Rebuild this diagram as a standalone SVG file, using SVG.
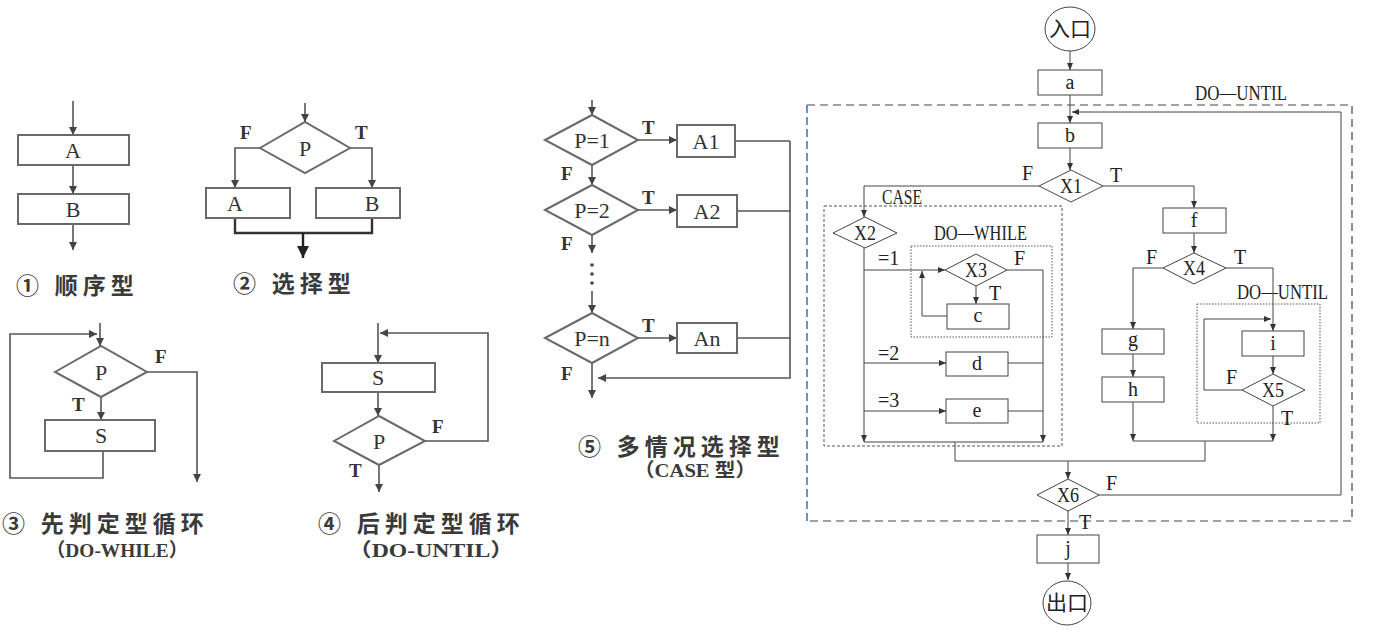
<svg xmlns="http://www.w3.org/2000/svg" width="1384" height="634" viewBox="0 0 1384 634">
<style>
.bg{fill:#ffffff}
.lp{fill:none;stroke:#555;stroke-width:1.6}
.ls{fill:#fff;stroke:#6a6a6a;stroke-width:2}
.lt{font-family:"Liberation Serif",serif;font-size:22px;fill:#333;text-anchor:middle}
.ll{font-family:"Liberation Serif",serif;font-size:19px;font-weight:bold;fill:#333}
.cap{font-family:"Liberation Serif","Noto Sans CJK SC",sans-serif;font-size:23px;font-weight:bold;fill:#3a3a3a;letter-spacing:5px}
.cap2{font-family:"Liberation Serif","Noto Sans CJK SC",serif;font-size:19px;font-weight:bold;fill:#3a3a3a}
.rp{fill:none;stroke:#444;stroke-width:1}
.rs{fill:#fff;stroke:#444;stroke-width:1}
.rt{font-family:"Liberation Serif",serif;font-size:20px;fill:#222;text-anchor:middle}
.rl{font-family:"Liberation Serif",serif;font-size:20px;fill:#222}
.cj{font-family:"Noto Sans CJK SC",sans-serif;font-size:21px;fill:#222;text-anchor:middle}
.dash{fill:none;stroke:#444;stroke-width:1.2;stroke-dasharray:8 5}
.dsm{fill:none;stroke:#555;stroke-width:1;stroke-dasharray:3 2}
.dot{fill:none;stroke:#555;stroke-width:1;stroke-dasharray:1.5 1.5}
</style>
<defs>
<marker id="al" markerUnits="userSpaceOnUse" markerWidth="10" markerHeight="10" refX="8" refY="4" orient="auto"><path d="M0,0 L8,4 L0,8 z" fill="#444"/></marker>
<marker id="ab" markerUnits="userSpaceOnUse" markerWidth="14" markerHeight="14" refX="12" refY="6" orient="auto"><path d="M0,0 L12,6 L0,12 z" fill="#222"/></marker>
<marker id="ar" markerUnits="userSpaceOnUse" markerWidth="8" markerHeight="8" refX="7" refY="3" orient="auto"><path d="M0,0 L7,3 L0,6 z" fill="#333"/></marker>
</defs>
<rect class="bg" x="0" y="0" width="1384" height="634"/>

<!-- Panel 1 -->
<g id="p1-connectors">
<path class="lp" d="M73,101 V135" marker-end="url(#al)"/>
<path class="lp" d="M73,165 V194" marker-end="url(#al)"/>
<path class="lp" d="M73,224 V250" marker-end="url(#al)"/>
</g>
<g id="p1-A"><rect class="ls" x="18" y="135" width="111" height="30"/><text class="lt" x="73" y="158">A</text></g>
<g id="p1-B"><rect class="ls" x="18" y="194" width="111" height="30"/><text class="lt" x="73" y="217">B</text></g>
<text class="cap" x="16" y="294">① 顺序型</text>

<!-- Panel 2 -->
<g id="p2-connectors">
<path class="lp" d="M305,103 V122" marker-end="url(#al)"/>
<path class="lp" d="M260,148 H235 V188" marker-end="url(#al)"/>
<path class="lp" d="M350,148 H372 V188" marker-end="url(#al)"/>
<path fill="none" stroke="#333" stroke-width="2.4" d="M235,218 V233 H372 V218"/>
<path fill="none" stroke="#222" stroke-width="2.4" d="M303,233 V258" marker-end="url(#ab)"/>
</g>
<g id="p2-P"><polygon class="ls" points="260,148 305,122 350,148 305,173"/><text class="lt" x="305" y="156">P</text></g>
<text class="ll" x="240" y="139">F</text>
<text class="ll" x="355" y="139">T</text>
<g id="p2-A"><rect class="ls" x="206" y="188" width="84" height="30"/><text class="lt" x="235" y="211">A</text></g>
<g id="p2-B"><rect class="ls" x="316" y="188" width="84" height="30"/><text class="lt" x="372" y="211">B</text></g>
<text class="cap" x="233" y="292">② 选择型</text>

<!-- Panel 3 -->
<g id="p3-connectors">
<path class="lp" d="M100,323 V346" marker-end="url(#al)"/>
<path class="lp" d="M147,372 H197 V482" marker-end="url(#al)"/>
<path class="lp" d="M101,397 V420" marker-end="url(#al)"/>
<path class="lp" d="M103,451 V478 H10 V334 H97" marker-end="url(#al)"/>
</g>
<g id="p3-P"><polygon class="ls" points="55,372 101,346 147,372 101,397"/><text class="lt" x="101" y="380">P</text></g>
<text class="ll" x="155" y="363">F</text>
<text class="ll" x="72" y="411">T</text>
<g id="p3-S"><rect class="ls" x="45" y="420" width="110" height="31"/><text class="lt" x="101" y="443">S</text></g>
<text class="cap" x="2" y="532">③ 先判定型循环</text>
<text class="cap2" x="46" y="557" textLength="142" lengthAdjust="spacingAndGlyphs">（DO-WHILE）</text>

<!-- Panel 4 -->
<g id="p4-connectors">
<path class="lp" d="M378,323 V363" marker-end="url(#al)"/>
<path class="lp" d="M425,441 H488 V333 H380" marker-end="url(#al)"/>
<path class="lp" d="M378,392 V416" marker-end="url(#al)"/>
<path class="lp" d="M379,465 V492" marker-end="url(#al)"/>
</g>
<g id="p4-S"><rect class="ls" x="322" y="363" width="113" height="29"/><text class="lt" x="378" y="385">S</text></g>
<g id="p4-P"><polygon class="ls" points="334,441 379,416 425,441 379,465"/><text class="lt" x="379" y="449">P</text></g>
<text class="ll" x="432" y="433">F</text>
<text class="ll" x="349" y="477">T</text>
<text class="cap" x="318" y="532">④ 后判定型循环</text>
<text class="cap2" x="348" y="557" textLength="166" lengthAdjust="spacingAndGlyphs">（DO-UNTIL）</text>

<!-- Panel 5 -->
<g id="p5-connectors">
<path class="lp" d="M592,100 V115" marker-end="url(#al)"/>
<path class="lp" d="M638,140 H677" marker-end="url(#al)"/>
<path class="lp" d="M638,210 H677" marker-end="url(#al)"/>
<path class="lp" d="M638,338 H677" marker-end="url(#al)"/>
<path class="lp" d="M735,141 H790 M737,211 H790 M737,338 H790"/>
<path class="lp" d="M790,141 V378 H598" marker-end="url(#al)"/>
<path class="lp" d="M592,165 V185" marker-end="url(#al)"/>
<path class="lp" d="M592,235 V253" marker-end="url(#al)"/>
<path class="lp" d="M592,291 V313" marker-end="url(#al)"/>
<path class="lp" d="M592,363 V398" marker-end="url(#al)"/>
<circle cx="592" cy="265" r="1.8" fill="#444"/>
<circle cx="592" cy="274" r="1.8" fill="#444"/>
<circle cx="592" cy="283" r="1.8" fill="#444"/>
</g>
<g id="p5-d1"><polygon class="ls" points="545,140 592,115 638,140 592,165"/><text class="lt" x="592" y="148">P=1</text></g>
<g id="p5-d2"><polygon class="ls" points="545,210 592,185 638,210 592,235"/><text class="lt" x="592" y="218">P=2</text></g>
<g id="p5-dn"><polygon class="ls" points="545,338 592,313 638,338 592,363"/><text class="lt" x="592" y="346">P=n</text></g>
<g id="p5-A1"><rect class="ls" x="677" y="125" width="58" height="32"/><text class="lt" x="706" y="149">A1</text></g>
<g id="p5-A2"><rect class="ls" x="677" y="195" width="60" height="32"/><text class="lt" x="707" y="219">A2</text></g>
<g id="p5-An"><rect class="ls" x="677" y="323" width="60" height="30"/><text class="lt" x="707" y="346">An</text></g>
<text class="ll" x="642" y="134">T</text>
<text class="ll" x="642" y="204">T</text>
<text class="ll" x="642" y="332">T</text>
<text class="ll" x="561" y="180">F</text>
<text class="ll" x="561" y="250">F</text>
<text class="ll" x="561" y="380">F</text>
<text class="cap" x="578" y="455">⑤ 多情况选择型</text>
<text class="cap2" x="634" y="477" textLength="122" lengthAdjust="spacingAndGlyphs">（CASE 型）</text>

<!-- Right diagram: frames -->
<g id="frames">
<path class="dash" d="M807,105 H1352 V521 H807"/>
<path fill="none" stroke="#4a78b0" stroke-width="1.6" stroke-dasharray="8 4" d="M807,105 V521"/>
<rect class="dsm" x="824" y="206" width="238" height="240"/>
<rect class="dot" x="911" y="246" width="141" height="91"/>
<rect class="dot" x="1197" y="304" width="123" height="119"/>
</g>
<text class="rl" x="1195" y="100" textLength="92" lengthAdjust="spacingAndGlyphs">DO—UNTIL</text>
<text class="rl" x="882" y="204" font-size="17" textLength="40" lengthAdjust="spacingAndGlyphs">CASE</text>
<text class="rl" x="934" y="240" textLength="93" lengthAdjust="spacingAndGlyphs">DO—WHILE</text>
<text class="rl" x="1237" y="299" textLength="91" lengthAdjust="spacingAndGlyphs">DO—UNTIL</text>

<!-- Right diagram: connectors -->
<g id="connectors">
<path class="rp" d="M1070,50 V70" marker-end="url(#ar)"/>
<path class="rp" d="M1070,95 V123" marker-end="url(#ar)"/>
<path class="rp" d="M1070,148 V170" marker-end="url(#ar)"/>
<path class="rp" d="M1039,186 H864 V217" marker-end="url(#ar)"/>
<path class="rp" d="M1103,186 H1194 V208" marker-end="url(#ar)"/>
<path class="rp" d="M1194,233 V253" marker-end="url(#ar)"/>
<path class="rp" d="M1163,268 H1133 V329" marker-end="url(#ar)"/>
<path class="rp" d="M1133,354 V377" marker-end="url(#ar)"/>
<path class="rp" d="M1133,402 V441" marker-end="url(#ar)"/>
<path class="rp" d="M1226,268 H1273 V331" marker-end="url(#ar)"/>
<path class="rp" d="M1273,356 V374" marker-end="url(#ar)"/>
<path class="rp" d="M1242,390 H1204 V319 H1271" marker-end="url(#ar)"/>
<path class="rp" d="M1273,406 V441" marker-end="url(#ar)"/>
<path class="rp" d="M1133,441 H1273 M1205,441 V461"/>
<path class="rp" d="M864,248 V442" marker-end="url(#ar)"/>
<path class="rp" d="M864,270 H945" marker-end="url(#ar)"/>
<path class="rp" d="M1007,270 H1043 V442" marker-end="url(#ar)"/>
<path class="rp" d="M976,286 V304" marker-end="url(#ar)"/>
<path class="rp" d="M947,316 H922 V271" marker-end="url(#ar)"/>
<path class="rp" d="M864,363 H946" marker-end="url(#ar)"/>
<path class="rp" d="M1008,363 H1043"/>
<path class="rp" d="M864,411 H946" marker-end="url(#ar)"/>
<path class="rp" d="M1008,411 H1043"/>
<path class="rp" d="M864,442 H1043 M955,442 V461 H1205"/>
<path class="rp" d="M1068,461 V479" marker-end="url(#ar)"/>
<path class="rp" d="M1099,495 H1341 V112 H1072" marker-end="url(#ar)"/>
<path class="rp" d="M1068,511 V535" marker-end="url(#ar)"/>
<path class="rp" d="M1068,563 V580" marker-end="url(#ar)"/>
</g>

<!-- Right diagram: nodes -->
<g id="entry"><ellipse class="rs" cx="1070" cy="29" rx="25" ry="22"/><text class="cj" x="1070" y="36">入口</text></g>
<g id="a"><rect class="rs" x="1038" y="70" width="64" height="25"/><text class="rt" x="1070" y="89">a</text></g>
<g id="b"><rect class="rs" x="1038" y="123" width="64" height="25"/><text class="rt" x="1070" y="142">b</text></g>
<g id="X1"><polygon class="rs" points="1039,186 1071,170 1103,186 1071,202"/><text class="rt" x="1071" y="193" textLength="22" lengthAdjust="spacingAndGlyphs">X1</text></g>
<g id="X2"><polygon class="rs" points="833,233 865,217 897,233 865,248"/><text class="rt" x="865" y="240" textLength="22" lengthAdjust="spacingAndGlyphs">X2</text></g>
<g id="X3"><polygon class="rs" points="945,270 976,254 1007,270 976,286"/><text class="rt" x="976" y="277" textLength="22" lengthAdjust="spacingAndGlyphs">X3</text></g>
<g id="c"><rect class="rs" x="947" y="304" width="62" height="25"/><text class="rt" x="978" y="322">c</text></g>
<g id="d"><rect class="rs" x="946" y="352" width="62" height="24"/><text class="rt" x="977" y="370">d</text></g>
<g id="e"><rect class="rs" x="946" y="399" width="62" height="24"/><text class="rt" x="977" y="417">e</text></g>
<g id="f"><rect class="rs" x="1163" y="208" width="63" height="25"/><text class="rt" x="1194" y="227">f</text></g>
<g id="X4"><polygon class="rs" points="1163,268 1194,253 1226,268 1194,284"/><text class="rt" x="1194" y="275" textLength="22" lengthAdjust="spacingAndGlyphs">X4</text></g>
<g id="g"><rect class="rs" x="1102" y="329" width="62" height="25"/><text class="rt" x="1133" y="346">g</text></g>
<g id="h"><rect class="rs" x="1102" y="377" width="62" height="25"/><text class="rt" x="1133" y="396">h</text></g>
<g id="i"><rect class="rs" x="1242" y="331" width="62" height="25"/><text class="rt" x="1273" y="350">i</text></g>
<g id="X5"><polygon class="rs" points="1242,390 1273,374 1305,390 1273,406"/><text class="rt" x="1273" y="397" textLength="22" lengthAdjust="spacingAndGlyphs">X5</text></g>
<g id="X6"><polygon class="rs" points="1037,495 1068,479 1099,495 1068,511"/><text class="rt" x="1068" y="502" textLength="22" lengthAdjust="spacingAndGlyphs">X6</text></g>
<g id="j"><rect class="rs" x="1037" y="535" width="62" height="28"/><text class="rt" x="1068" y="555">j</text></g>
<g id="exit"><ellipse class="rs" cx="1067" cy="603" rx="24" ry="22"/><text class="cj" x="1067" y="610">出口</text></g>

<!-- Right diagram: branch labels -->
<g id="labels">
<text class="rl" x="1022" y="180">F</text>
<text class="rl" x="1110" y="182">T</text>
<text class="rl" x="1146" y="264">F</text>
<text class="rl" x="1234" y="264">T</text>
<text class="rl" x="1014" y="265">F</text>
<text class="rl" x="989" y="300">T</text>
<text class="rl" x="1226" y="384">F</text>
<text class="rl" x="1281" y="425">T</text>
<text class="rl" x="1106" y="490">F</text>
<text class="rl" x="1079" y="529">T</text>
<text class="rl" x="878" y="265" font-size="18">=1</text>
<text class="rl" x="878" y="360" font-size="18">=2</text>
<text class="rl" x="878" y="407" font-size="18">=3</text>
</g>
</svg>
